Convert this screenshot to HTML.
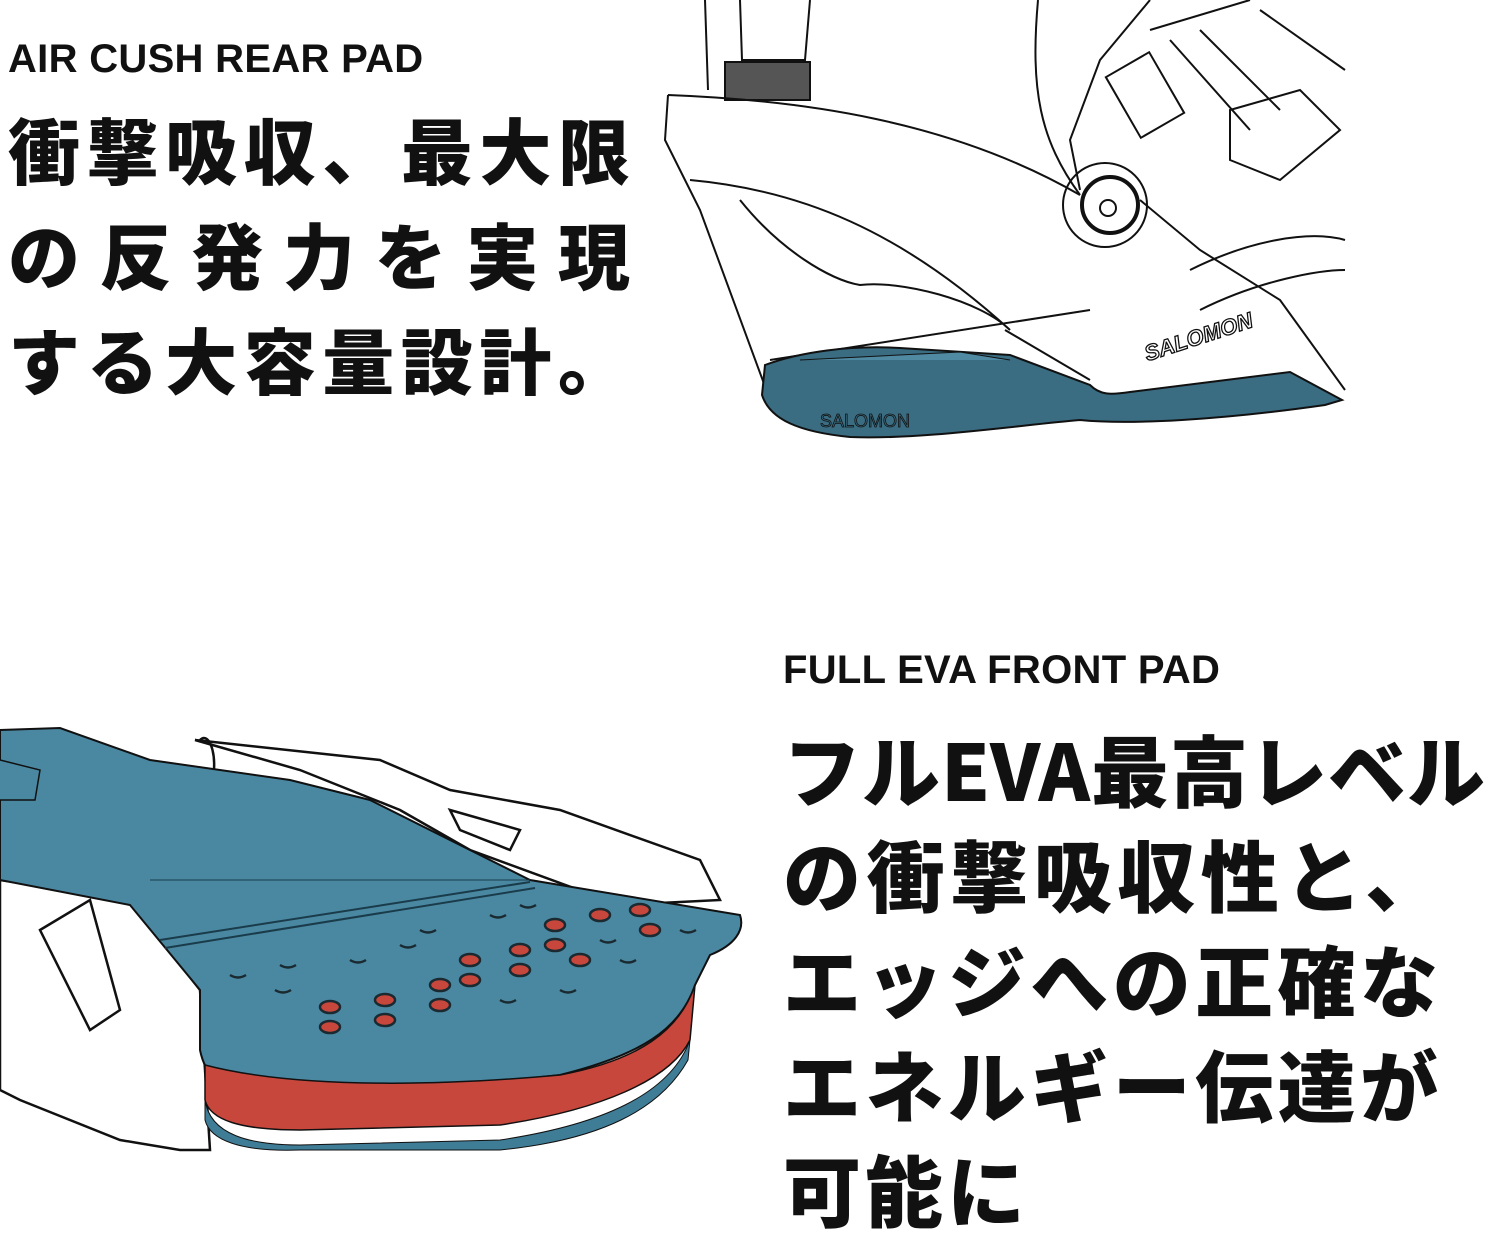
<!DOCTYPE html>
<html><head><meta charset="utf-8"><style>
html,body{margin:0;padding:0;background:#fff;}
body{width:1500px;height:1235px;position:relative;overflow:hidden;font-family:"Liberation Sans","Noto Sans CJK JP",sans-serif;color:#111;}
.lab{position:absolute;font-size:40px;font-weight:bold;letter-spacing:0.3px;white-space:nowrap;}
.jp{position:absolute;font-family:"Noto Sans CJK JP","Liberation Sans",sans-serif;font-weight:900;white-space:nowrap;text-align:justify;text-align-last:justify;}
svg{position:absolute;left:0;top:0;}
</style></head><body>
<svg width="1500" height="1235" viewBox="0 0 1500 1235">
<g fill="none" stroke="#111" stroke-width="2">
 <path d="M705 0 L708 90 M740 0 L742 60 L805 60 L810 0"/>
 <rect x="725" y="62" width="85" height="38" fill="#555" stroke="#111"/>
 <path d="M668 95 L665 140 L700 210 L770 400 M668 95 C800 100 950 120 1080 195"/>
 <path d="M690 180 C800 190 900 230 1010 330 C980 300 900 280 860 285 C830 280 780 250 740 200"/>
 <path d="M1038 0 C1030 90 1040 140 1080 195"/>
 <path d="M1150 0 L1100 60 L1070 140 L1080 190 M1150 30 L1250 0"/>
 <circle cx="1105" cy="205" r="42"/>
 <circle cx="1110" cy="205" r="28" stroke-width="4"/>
 <circle cx="1108" cy="208" r="8"/>
 <path d="M1140 200 L1200 250 L1280 300 L1345 390 M1190 270 C1250 240 1310 230 1345 240 M1200 310 C1260 280 1320 270 1345 270"/>
 <path d="M1230 110 L1300 90 L1340 130 L1280 180 L1230 160 Z"/>
 <path d="M1170 40 L1250 130 M1200 30 L1280 110 M1260 10 L1345 70"/>
 <path d="M770 360 L1090 310 M1005 330 L1090 380"/>
 <rect x="1120" y="60" width="50" height="70" fill="none" transform="rotate(-30 1145 95)"/>
</g>
<g transform="rotate(-18 1195 330)"><text x="1140" y="345" font-family="Liberation Sans" font-weight="bold" font-style="italic" font-size="22" fill="#fff" stroke="#111" stroke-width="1.3">SALOMON</text></g>
<path d="M765 365 C800 352 850 345 900 348 L1010 355 L1090 385 C1100 395 1110 395 1130 392 L1290 372 L1342 400 L1325 405 C1220 420 1130 425 1080 420 C1020 425 920 440 850 437 C800 432 770 420 762 395 Z" fill="#3a6c82" stroke="#111" stroke-width="2"/>
<path d="M800 360 L960 352 L1010 360" fill="#4f89a2" stroke="#111"/>
<text x="820" y="427" font-family="Liberation Sans" font-size="18" fill="#3a6c82" stroke="#111" stroke-width="0.8">SALOMON</text>

<g fill="#fff" stroke="#111" stroke-width="2.5">
 <path d="M0 880 L130 900 L200 990 L210 1150 L180 1150 L120 1140 L20 1100 L0 1090 Z"/>
 <path d="M40 930 L90 900 L120 1010 L90 1030 Z" fill="none"/>
 <path d="M195 740 L380 760 L450 790 L560 810 L700 860 L720 900 L620 905 L470 850 L400 810 L300 770 Z"/>
 <path d="M450 810 L520 830 L510 850 L460 830 Z" fill="none"/>
 <path d="M200 740 C210 730 220 760 210 790" fill="none"/>
</g>
<path d="M0 730 L60 728 L150 760 L290 780 L370 800 L530 880 L740 915 C745 930 735 945 710 955 L695 985 C680 1030 640 1055 560 1075 L420 1090 L250 1090 C220 1090 205 1075 200 1050 L200 990 L130 905 L0 880 Z" fill="#4a88a2" stroke="#111" stroke-width="2"/>
<path d="M0 760 L40 770 L35 800 L0 800" fill="#4a88a2" stroke="#111" stroke-width="1.5"/>
<path d="M150 880 L530 880" stroke="#1a3c4a" stroke-width="1"/>
<path d="M160 940 L530 882 M165 948 L535 888" stroke="#1a3c4a" stroke-width="2"/>
<path d="M205 1065 C300 1090 450 1085 560 1075 C640 1060 680 1030 695 985 L690 1040 C670 1080 600 1110 500 1125 L300 1130 C240 1130 210 1120 205 1100 Z" fill="#c8473d" stroke="#111" stroke-width="1.5"/>
<path d="M205 1100 C210 1135 250 1145 300 1145 L500 1140 C600 1125 670 1095 690 1040 L688 1060 C660 1110 600 1140 500 1150 L300 1150 C240 1152 210 1140 205 1120 Z" fill="#3f7c96" stroke="#111" stroke-width="1"/>
<g fill="#c8473d" stroke="#1a2a30" stroke-width="2.5">
<ellipse cx="330" cy="1007" rx="10" ry="6"/><ellipse cx="330" cy="1027" rx="10" ry="6"/>
<ellipse cx="385" cy="1000" rx="10" ry="6"/><ellipse cx="385" cy="1020" rx="10" ry="6"/>
<ellipse cx="440" cy="985" rx="10" ry="6"/><ellipse cx="440" cy="1005" rx="10" ry="6"/>
<ellipse cx="470" cy="960" rx="10" ry="6"/><ellipse cx="470" cy="980" rx="10" ry="6"/>
<ellipse cx="520" cy="950" rx="10" ry="6"/><ellipse cx="520" cy="970" rx="10" ry="6"/>
<ellipse cx="555" cy="925" rx="10" ry="6"/><ellipse cx="555" cy="945" rx="10" ry="6"/>
<ellipse cx="600" cy="915" rx="10" ry="6"/><ellipse cx="580" cy="960" rx="10" ry="6"/>
<ellipse cx="640" cy="910" rx="10" ry="6"/><ellipse cx="650" cy="930" rx="10" ry="6"/>
</g>
<g fill="none" stroke="#1a2a30" stroke-width="2.5">
<path d="M230 975 q8 5 16 0 M280 965 q8 5 16 0 M275 990 q8 5 16 0 M350 960 q8 5 16 0 M400 945 q8 5 16 0 M420 930 q8 5 16 0 M490 915 q8 5 16 0 M520 905 q8 5 16 0 M600 940 q8 5 16 0 M620 960 q8 5 16 0 M680 930 q8 5 16 0 M560 990 q8 5 16 0 M500 1000 q8 5 16 0"/>
</g>
</svg>

<div class="lab" style="left:8px;top:37px;">AIR CUSH REAR PAD</div>
<div class="jp" style="left:8px;top:108px;width:622px;font-size:72px;line-height:80px;">衝撃吸収、最大限</div>
<div class="jp" style="left:8px;top:213px;width:622px;font-size:72px;line-height:80px;">の反発力を実現</div>
<div class="jp" style="left:8px;top:318px;width:622px;font-size:72px;line-height:80px;">する大容量設計。</div>

<div class="lab" style="left:783px;top:648px;">FULL EVA FRONT PAD</div>
<div class="jp" style="left:783px;top:725px;width:702px;font-size:78px;line-height:86px;">フルEVA最高レベル</div>
<div class="jp" style="left:783px;top:830px;width:660px;font-size:78px;line-height:86px;">の衝撃吸収性と、</div>
<div class="jp" style="left:783px;top:935px;width:655px;font-size:78px;line-height:86px;">エッジへの正確な</div>
<div class="jp" style="left:783px;top:1040px;width:655px;font-size:78px;line-height:86px;">エネルギー伝達が</div>
<div class="jp" style="left:783px;top:1145px;font-size:78px;line-height:86px;letter-spacing:4px;text-align-last:auto;">可能に</div>
</body></html>
